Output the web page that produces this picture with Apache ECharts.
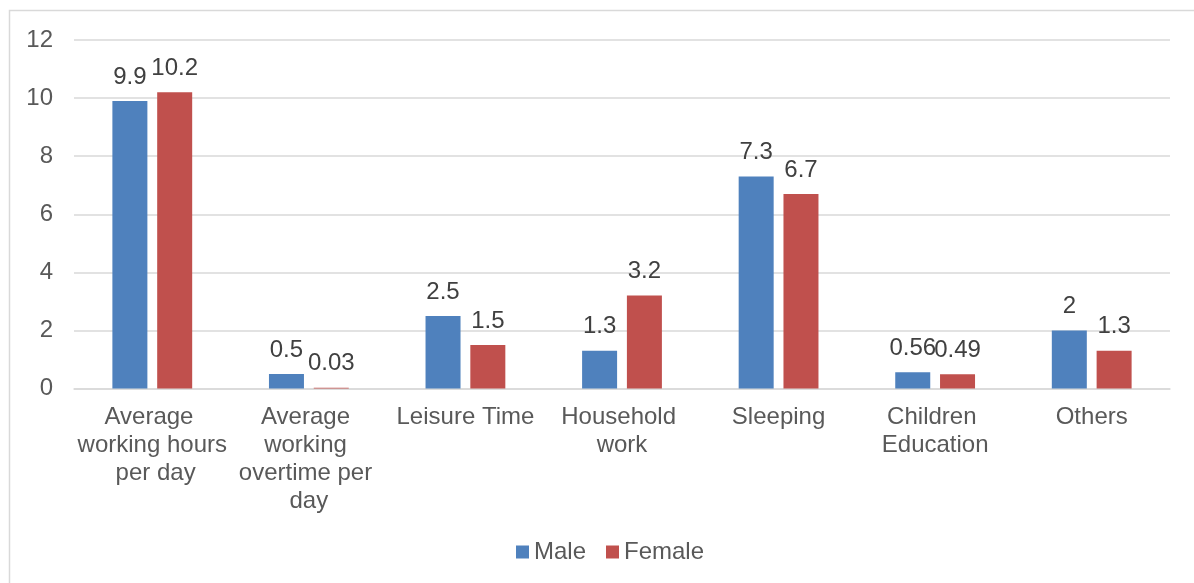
<!DOCTYPE html>
<html>
<head>
<meta charset="utf-8">
<script src="https://cdn.jsdelivr.net/npm/echarts@6/dist/echarts.min.js"></script>
<style>
  html, body { margin: 0; padding: 0; background: #ffffff; }
  #chart { width: 1194px; height: 583px; }
</style>
</head>
<body>
<div id="chart"></div>
<script>
// Average daily time use, hours
const categories = [
  'Average working hours per day',
  'Average working overtime per day',
  'Leisure Time',
  'Household work',
  'Sleeping',
  'Children Education',
  'Others'
];
const maleHours = [9.9, 0.5, 2.5, 1.3, 7.3, 0.56, 2];
const femaleHours = [10.2, 0.03, 1.5, 3.2, 6.7, 0.49, 1.3];
const seriesNames = ['Male', 'Female'];
const yTicks = { min: 0, max: 12, interval: 2 };

const FONT = '"Liberation Sans", Arial, sans-serif';
const TEXT = '#595959';

const chart = echarts.init(document.getElementById('chart'), null, { renderer: 'canvas' });

const barLabel = {
  show: true,
  position: 'top',
  distance: 12,
  fontFamily: FONT,
  fontSize: 24,
  color: '#404040'
};

chart.setOption({
  animation: false,
  backgroundColor: '#ffffff',
  textStyle: { fontFamily: FONT },
  graphic: [{
    type: 'rect',
    shape: { x: 9.5, y: 10.5, width: 1200, height: 600 },
    style: { fill: 'none', stroke: '#d9d9d9', lineWidth: 1.5 },
    silent: true,
    z: -1
  }],
  grid: { left: 74, right: 24, top: 40, bottom: 194.5, containLabel: false },
  legend: {
    data: seriesNames,
    bottom: 14,
    left: 511,
    icon: 'rect',
    itemWidth: 13,
    itemHeight: 13,
    itemGap: 20,
    textStyle: { fontFamily: FONT, fontSize: 24, color: TEXT, padding: [0, 0, 0, 0] }
  },
  xAxis: {
    type: 'category',
    data: categories,
    axisLine: { lineStyle: { color: '#d9d9d9', width: 1.5 } },
    axisTick: { show: false },
    axisLabel: {
      interval: 0,
      margin: 15,
      width: 156,
      overflow: 'break',
      lineHeight: 28,
      fontFamily: FONT,
      fontSize: 24,
      color: TEXT,
      align: 'center'
    }
  },
  yAxis: {
    type: 'value',
    min: yTicks.min,
    max: yTicks.max,
    interval: yTicks.interval,
    axisLine: { show: false },
    axisTick: { show: false },
    splitLine: { lineStyle: { color: '#d9d9d9', width: 1.5 } },
    axisLabel: { margin: 21, fontFamily: FONT, fontSize: 24, color: TEXT }
  },
  series: [
    {
      name: seriesNames[0],
      type: 'bar',
      data: maleHours,
      barWidth: 35,
      barGap: '28%',
      itemStyle: { color: '#4f81bd' },
      label: barLabel
    },
    {
      name: seriesNames[1],
      type: 'bar',
      data: femaleHours,
      barWidth: 35,
      itemStyle: { color: '#c0504d' },
      label: barLabel
    }
  ]
});
</script>
</body>
</html>
